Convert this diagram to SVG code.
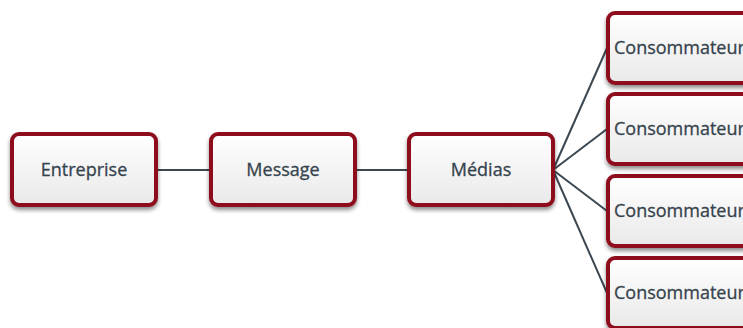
<svg xmlns="http://www.w3.org/2000/svg" width="743" height="328" viewBox="0 0 743 328">
<defs>
<linearGradient id="g" x1="0" y1="0" x2="0" y2="1">
<stop offset="0" stop-color="#ffffff"/>
<stop offset="1" stop-color="#e9e9e9"/>
</linearGradient>
<filter id="sh" x="-10%" y="-10%" width="120%" height="130%">
<feGaussianBlur in="SourceAlpha" stdDeviation="2"/>
<feOffset dx="0" dy="3" result="b"/>
<feComponentTransfer><feFuncA type="linear" slope="0.45"/></feComponentTransfer>
<feMerge><feMergeNode/><feMergeNode in="SourceGraphic"/></feMerge>
</filter>
</defs>
<style>
.box{fill:url(#g);stroke:#8e0c1c;stroke-width:4;filter:url(#sh)}
.t{font-family:"Open Sans","DejaVu Sans",sans-serif;font-size:18px;fill:#35434d;stroke:#35434d;stroke-width:0.3}
.c{stroke:#3b4751;stroke-width:2;fill:none}
</style>
<g id="connectors">
<line class="c" x1="157" y1="170" x2="211" y2="170"/>
<line class="c" x1="355" y1="170" x2="409" y2="170"/>
<line class="c" x1="553" y1="170" x2="607" y2="48"/>
<line class="c" x1="553" y1="170" x2="607" y2="129"/>
<line class="c" x1="553" y1="170" x2="607" y2="211"/>
<line class="c" x1="553" y1="170" x2="607" y2="293"/>
</g>
<g id="entreprise">
<rect class="box" x="12" y="134" width="144" height="71" rx="7"/>
<text class="t" x="84" y="176" text-anchor="middle">Entreprise</text>
</g>
<g id="message">
<rect class="box" x="211" y="134" width="144" height="71" rx="7"/>
<text class="t" x="283" y="176" text-anchor="middle">Message</text>
</g>
<g id="medias">
<rect class="box" x="409" y="134" width="144" height="71" rx="7"/>
<text class="t" x="481" y="176" text-anchor="middle">Médias</text>
</g>
<g id="consommateur1">
<rect class="box" x="608" y="13" width="144" height="70" rx="7"/>
<text class="t" x="614" y="54">Consommateur</text>
</g>
<g id="consommateur2">
<rect class="box" x="608" y="94" width="144" height="70" rx="7"/>
<text class="t" x="614" y="135">Consommateur</text>
</g>
<g id="consommateur3">
<rect class="box" x="608" y="176" width="144" height="70" rx="7"/>
<text class="t" x="614" y="217">Consommateur</text>
</g>
<g id="consommateur4">
<rect class="box" x="608" y="258" width="144" height="70" rx="7"/>
<text class="t" x="614" y="299">Consommateur</text>
</g>
</svg>
